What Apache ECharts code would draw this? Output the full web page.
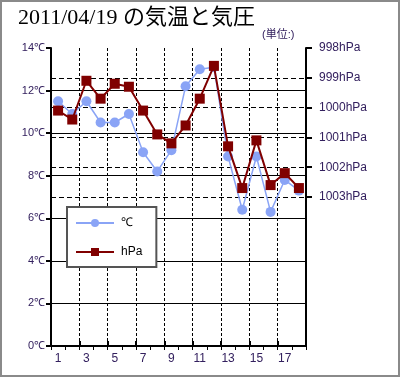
<!DOCTYPE html>
<html><head><meta charset="utf-8">
<script src="https://cdn.jsdelivr.net/npm/echarts@6/dist/echarts.min.js"></script>
<style>
html,body{margin:0;padding:0;background:#fff;}
#wrap{width:400px;height:377px;box-sizing:border-box;border:2px solid #8a8a8a;position:relative;overflow:hidden;}
#c{position:absolute;left:-2px;top:-2px;width:400px;height:377px;}
</style></head>
<body><div id="wrap"><div id="c"></div></div>
<script>
const hours = ['1','2','3','4','5','6','7','8','9','10','11','12','13','14','15','16','17','18'];
const tempC = [11.5,10.9,11.5,10.5,10.5,10.9,9.1,8.2,9.2,12.2,13.0,13.1,8.9,6.4,8.9,6.3,7.8,7.3];
const pressHPa = [1000.1,1000.4,999.1,999.7,999.2,999.3,1000.1,1000.9,1001.2,1000.6,999.7,998.6,1001.3,1002.7,1001.1,1002.6,1002.2,1002.7];
const hpaTicks = [998,999,1000,1001,1002,1003];
const hpaGrid = [999,1000,1001,1002,1003];

const labelColor = '#33205e';
const chart = echarts.init(document.getElementById('c'));
chart.setOption({
  animation:false,
  backgroundColor:'transparent',
  graphic:[
    {type:'text',left:18,top:7,style:{text:'2011/04/19 の気温と気圧',font:'22px "Liberation Serif", "Noto Sans CJK JP", serif',fill:'#000'}},
    {type:'text',left:262,top:29,style:{text:'(単位:)',font:'11px "Liberation Sans", "Noto Sans CJK JP", sans-serif',fill:labelColor}}
  ],
  legend:{
    orient:'vertical',left:67,top:207,
    width:89,
    padding:[10,14,9,8],
    itemGap:17,itemWidth:38,itemHeight:10,
    backgroundColor:'#fff',borderColor:'#555',borderWidth:2,
    textStyle:{fontSize:12,color:'#000',fontFamily:'"Liberation Sans", Arial, sans-serif',padding:[0,0,0,2]},
    data:['℃','hPa']
  },
  grid:{left:51,right:94,top:48,bottom:31},
  xAxis:[{
    type:'category',data:hours,boundaryGap:true,
    axisLine:{lineStyle:{color:'#000',width:2}},
    axisTick:{show:true,interval:0,length:4,lineStyle:{color:'#000',width:1}},
    axisLabel:{interval:1,color:labelColor,fontSize:12,margin:7,fontFamily:'"Liberation Sans", Arial, sans-serif'},
    splitLine:{show:true,interval:1,lineStyle:{color:'#000',type:[3,2],width:1}}
  },{
    type:'category',data:hours,boundaryGap:true,position:'bottom',
    axisLine:{show:false},
    axisTick:{show:true,interval:1,length:5,inside:true,lineStyle:{color:'#000',width:2}},
    axisLabel:{show:false},splitLine:{show:false}
  }],
  yAxis:[{
    type:'value',min:0,max:14,interval:2,position:'left',
    axisLine:{show:true,lineStyle:{color:'#000',width:2}},
    axisTick:{show:true,length:5,lineStyle:{color:'#000',width:2}},
    axisLabel:{formatter:v=>v+'℃',color:labelColor,fontSize:11,margin:6,fontFamily:'"Liberation Sans", Arial, sans-serif'},
    splitLine:{show:true,showMinLine:false,showMaxLine:false,lineStyle:{color:'#000',width:1}}
  },{
    type:'value',min:998,max:1008,interval:1,inverse:true,position:'right',
    axisLine:{show:true,lineStyle:{color:'#000',width:2}},
    axisTick:{show:true,length:6,customValues:hpaTicks,lineStyle:{color:'#000',width:2}},
    axisLabel:{customValues:hpaTicks,formatter:v=>String(v)+'hPa',color:labelColor,fontSize:12,margin:13,fontFamily:'"Liberation Sans", Arial, sans-serif'},
    splitLine:{show:false}
  }],
  series:[{
    name:'℃',type:'line',yAxisIndex:0,data:tempC,
    symbol:'circle',symbolSize:10,showSymbol:true,showAllSymbol:true,
    lineStyle:{color:'#8aa4f6',width:1.5},
    itemStyle:{color:'#8aa4f6'},z:3
  },{
    name:'hPa',type:'line',yAxisIndex:1,data:pressHPa,
    symbol:'rect',symbolSize:10,showSymbol:true,showAllSymbol:true,
    lineStyle:{color:'#800000',width:2},
    itemStyle:{color:'#800000'},z:4,
    markLine:{silent:true,symbol:'none',label:{show:false},z:1,
      lineStyle:{color:'#000',type:[5,3],width:1},
      data:hpaGrid.map(v=>({yAxis:v}))}
  }]
});
</script></body></html>
